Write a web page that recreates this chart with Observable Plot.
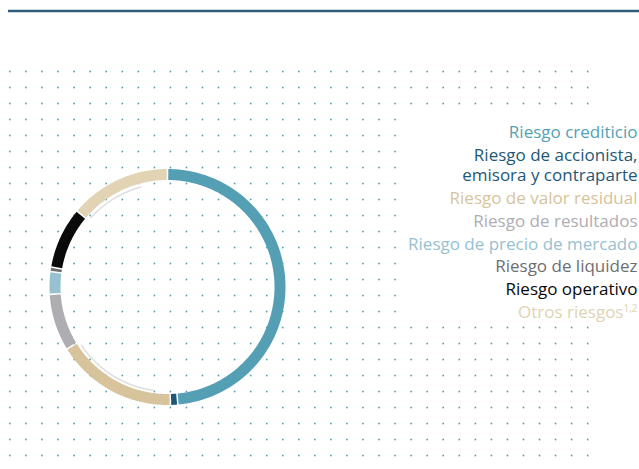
<!DOCTYPE html>
<html>
<head>
<meta charset="utf-8">
<script src="https://cdn.jsdelivr.net/npm/d3@7"></script>
<script src="https://cdn.jsdelivr.net/npm/@observablehq/plot@0.6"></script>
<style>
  html, body { margin: 0; padding: 0; background: #fff; }
  #chart svg { display: block; }
</style>
</head>
<body>
<div id="chart"></div>
<script>
// ---- Data ----
const categories = [
  "Riesgo crediticio",
  "Riesgo de accionista,\nemisora y contraparte",
  "Riesgo de valor residual",
  "Riesgo de resultados",
  "Riesgo de precio de mercado",
  "Riesgo de liquidez",
  "Riesgo operativo",
  "Otros riesgos"
];
const shares = [48.6, 1.0, 16.6, 7.8, 3.1, 0.6, 8.4, 13.9];
const colors = ["#559fb5", "#1d5877", "#d7c39c", "#aeadb2", "#97c1d0", "#6d6e71", "#0a0a0a", "#e1d3b3"];
// faint inner arcs (start / end, in cumulative percent)
const faintStart = [52.2, 86.7];
const faintEnd = [65.6, 95.8];
const footnote = "1,2";

// ---- Layout ----
const W = 639, H = 469;
const cx = 167.5, cy = 287, rOuter = 118, rInner = 107, rFaint = 104;
const gapPx = 1.6;
const fs = 17;

const total = d3.sum(shares);
const cum = d3.cumsum(shares);
const arcRows = [];
categories.forEach((name, i) => {
  const a0 = ((cum[i] - shares[i]) / total) * 2 * Math.PI + (gapPx / 2) / rOuter;
  const a1 = (cum[i] / total) * 2 * Math.PI - (gapPx / 2) / rOuter;
  const n = Math.max(2, Math.ceil((a1 - a0) / 0.01));
  for (let k = 0; k <= n; k++) {
    const a = a0 + (a1 - a0) * k / n;
    arcRows.push({
      name,
      x1: cx + rOuter * Math.sin(a), y1: cy - rOuter * Math.cos(a),
      x2: cx + rInner * Math.sin(a), y2: cy - rInner * Math.cos(a)
    });
  }
});

const faintRows = [];
faintStart.forEach((s, i) => {
  const a0 = s / 100 * 2 * Math.PI, a1 = faintEnd[i] / 100 * 2 * Math.PI;
  const n = Math.ceil((a1 - a0) / 0.01);
  for (let k = 0; k <= n; k++) {
    const a = a0 + (a1 - a0) * k / n;
    faintRows.push({id: i, x: cx + rFaint * Math.sin(a), y: cy - rFaint * Math.cos(a)});
  }
});

const grid = [];
for (const j of d3.range(25)) for (const i of d3.range(37)) grid.push({x: 9.4 + 16.05 * i, y: 71 + 16 * j});

const legendRows = [];
let extra = 0;
categories.forEach((name, i) => {
  legendRows.push({name, label: name, top: 123.2 + 22.9 * i + 20 * extra});
  extra += name.split("\n").length - 1;
});

const chart = Plot.plot({
  width: W, height: H,
  margin: 0,
  style: {fontFamily: "'Open Sans', sans-serif", background: "#fff"},
  x: {domain: [0, W], range: [0, W], axis: null},
  y: {domain: [0, H], range: [0, H], axis: null},
  color: {domain: categories, range: colors},
  marks: [
    Plot.ruleY([10.5], {x1: 8, x2: W, stroke: "#2d5d7b", strokeWidth: 2.5}),
    Plot.dot(grid, {x: "x", y: "y", r: 0.9, fill: "#5b9fb5", stroke: null}),
    Plot.rect([0], {x1: 400, x2: W, y1: 112, y2: 318, fill: "#fff"}),
    Plot.line(faintRows, {x: "x", y: "y", z: "id", stroke: "#dedede", strokeWidth: 1.5}),
    Plot.area(arcRows, {x1: "x1", y1: "y1", x2: "x2", y2: "y2", z: "name", fill: "name", curve: "linear"}),
    Plot.text(legendRows, {
      x: 637, y: "top", text: "label", fill: "name",
      textAnchor: "end", lineAnchor: "top", fontSize: fs, lineHeight: 20 / fs,
      fontFamily: "'Open Sans', sans-serif"
    })
  ]
});
document.getElementById("chart").appendChild(chart);

// superscript footnote on the last label
const texts = chart.querySelectorAll("g[aria-label='text'] text");
const last = texts[texts.length - 1];
if (last) {
  const ts = document.createElementNS("http://www.w3.org/2000/svg", "tspan");
  ts.setAttribute("font-size", "10");
  ts.setAttribute("dy", "-6");
  ts.textContent = footnote;
  last.appendChild(ts);
}
</script>
</body>
</html>
